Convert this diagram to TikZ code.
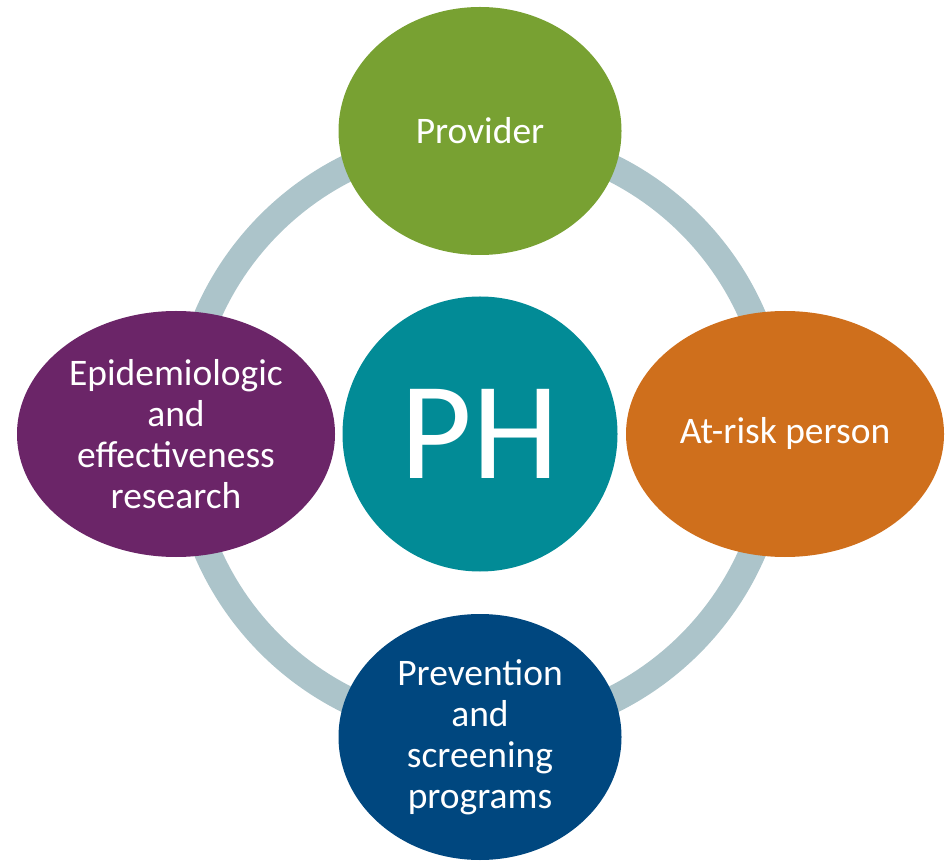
\documentclass[tikz,border=0pt]{standalone}
\usepackage{fontspec}
\setmainfont{Carlito}
\usetikzlibrary{shapes.geometric}
\definecolor{ringc}{HTML}{ACC4CA}
\definecolor{greenc}{HTML}{78A132}
\definecolor{tealc}{HTML}{028B96}
\definecolor{purplec}{HTML}{6B2568}
\definecolor{orangec}{HTML}{CF6F1C}
\definecolor{bluec}{HTML}{00477F}
\begin{document}
\begin{tikzpicture}[x=1pt,y=1pt,
  bubble/.style={ellipse, inner sep=0pt, draw=none, text=white, align=center,
    font=\fontsize{37.5}{41}\selectfont},
  ringline/.style={draw=ringc, line width=27pt}]
\useasboundingbox (0,0) rectangle (947,860);
\coordinate (c) at (480,426);
\draw[ringline] (c) circle (297);
\node[bubble, fill=greenc, minimum width=283pt, minimum height=248pt] (prov) at (480,729) {Provider};
\node[bubble, fill=purplec, minimum width=318pt, minimum height=246pt] (epi) at (176,426) {Epidemiologic\\and\\effectiveness\\research};
\node[bubble, fill=orangec, minimum width=318pt, minimum height=246pt] (risk) at (785,426) {At-risk person};
\node[bubble, fill=bluec, minimum width=283pt, minimum height=246pt] (prev) at (480,123) {Prevention\\and\\screening\\programs};
\node[circle, inner sep=0pt, fill=tealc, text=white, minimum size=275pt,
  font=\fontsize{139}{146}\selectfont] (ph) at (c) {PH};
\end{tikzpicture}
\end{document}
